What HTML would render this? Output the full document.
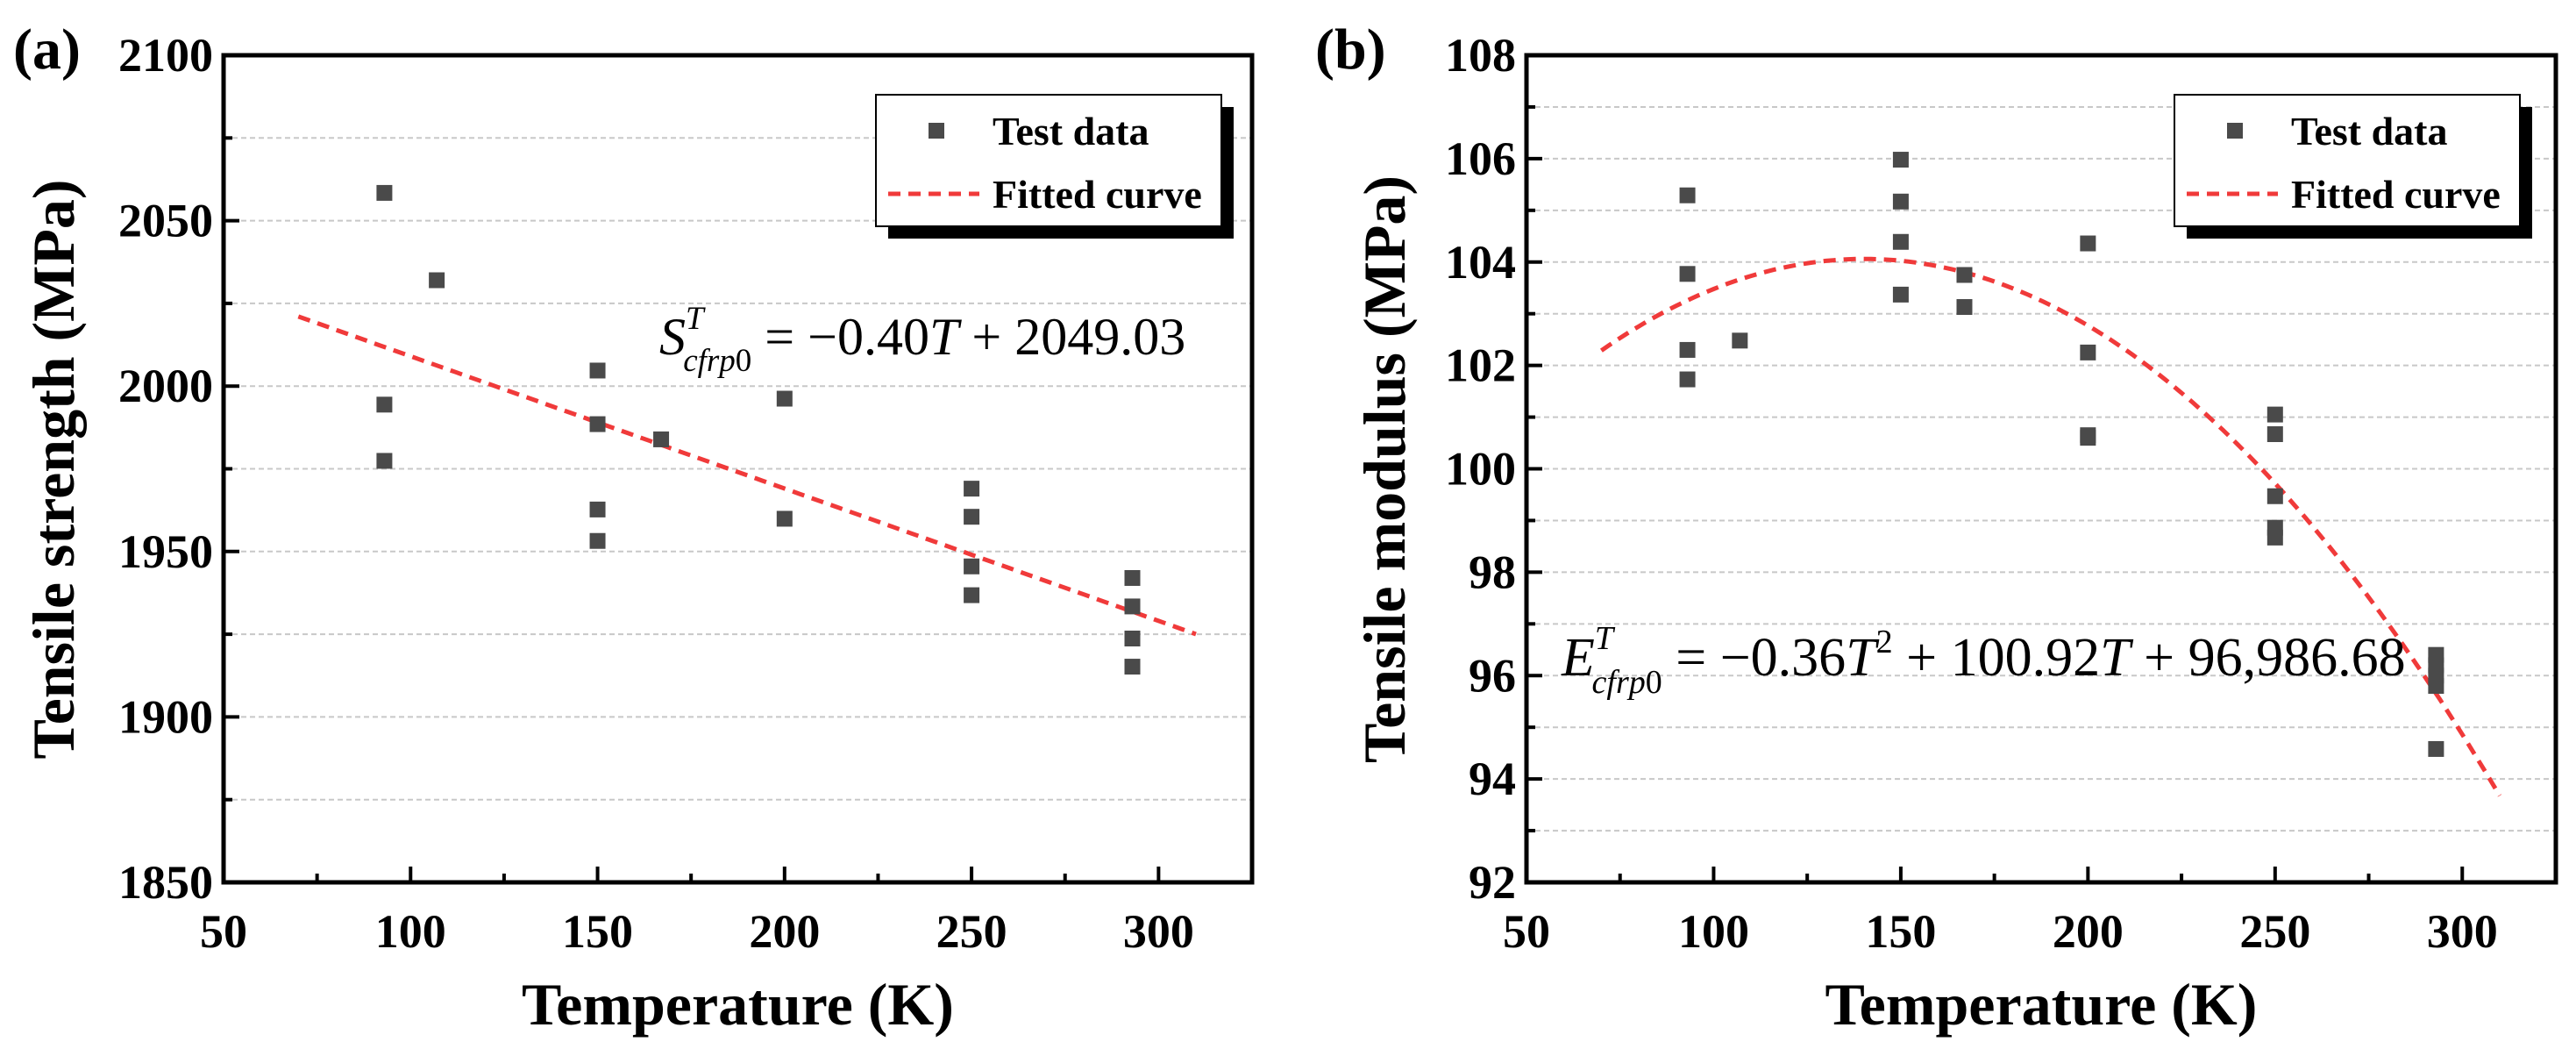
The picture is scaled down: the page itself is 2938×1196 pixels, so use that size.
<!DOCTYPE html>
<html><head><meta charset="utf-8">
<style>
html,body{margin:0;padding:0;background:#fff;}
svg{display:block;font-family:"Liberation Serif","Times New Roman",serif;}
</style></head>
<body>
<svg id="fig" width="2938" height="1196" viewBox="0 0 2938 1196" xmlns="http://www.w3.org/2000/svg"></svg>
<script>
// ---- Panel (a) data ----
const tempsA = [93,93,93,107,150,150,150,150,167,200,200,250,250,250,250,293,293,293,293];
const strengthA = [2058.4,1994.4,1977.4,2032,2004.7,1988.5,1962.7,1953.2,1983.9,1996.2,1959.9,1969,1960.5,1945.5,1936.8,1942,1933.4,1923.7,1915.2];
const fitA = [-0.40, 2049.03]; // slope, intercept
const fitRangeA = [70, 310];
const yTicksA = [1850,1900,1950,2000,2050,2100];
// ---- Panel (b) data ----
const tempsB = [93,93,93,93,107,150,150,150,150,167,167,200,200,200,200,250,250,250,250,250,293,293,293,293,293];
const modulusB = [105.29,103.77,102.30,101.73,102.48,105.98,105.17,104.39,103.37,103.75,103.13,104.36,102.25,100.65,100.6,101.05,100.67,99.47,98.86,98.67,96.4,96.2,96.0,95.8,94.58];
const fitB = [-0.00036, 0.10092, 96.98668]; // c2, c1, c0
const fitRangeB = [70, 310];
const yTicksB = [92,94,96,98,100,102,104,106,108];
const xTicks = [50,100,150,200,250,300];

const NS = "http://www.w3.org/2000/svg";
const svg = document.getElementById('fig');
function mk(tag, attrs, parent){
  const e = document.createElementNS(NS, tag);
  for (const k in attrs) e.setAttribute(k, attrs[k]);
  (parent||svg).appendChild(e);
  return e;
}

function panel(cfg){
  const g = mk('g', {});
  
  
  const L = cfg.left, R = cfg.right, T = 63, B = 1006;
  const xs = t => L + (t - 50) / 275 * (R - L);
  const ys = v => T + (cfg.ymax - v) / (cfg.ymax - cfg.ymin) * (B - T);
  const gstep = cfg.gridStep;
  for (let v = cfg.ymin + gstep; v < cfg.ymax - 1e-9; v += gstep){
    const gl = mk('line', {x1:L, x2:R, y1:ys(v), y2:ys(v), stroke:'#c8c8c8', 'stroke-width':2, 'stroke-dasharray':'6,4'}, g);
    
    
  }
  const fr = mk('rect', {x:L, y:T, width:R-L, height:B-T, fill:'none', stroke:'#000', 'stroke-width':5}, g);
  
  
  for (let t = 50; t <= 325; t += 25){
    const major = (t % 50 === 0);
    mk('line', {x1:xs(t), x2:xs(t), y1:B, y2:B-(major?18:10), stroke:'#000', 'stroke-width':4}, g);
  }
  xTicks.forEach(t => {
    const tx = mk('text', {x:xs(t), y:B+74, 'text-anchor':'middle', 'font-size':54, 'font-weight':'bold'}, g);
    tx.textContent = t;
    
    
  });
  for (let v = cfg.ymin; v <= cfg.ymax + 1e-9; v += gstep){
    const major = cfg.ticks.some(k => Math.abs(k - v) < 1e-6);
    mk('line', {x1:L, x2:L+(major?18:10), y1:ys(v), y2:ys(v), stroke:'#000', 'stroke-width':4}, g);
  }
  cfg.ticks.forEach(v => {
    const ty = mk('text', {x:L-12, y:ys(v)+18, 'text-anchor':'end', 'font-size':54, 'font-weight':'bold'}, g);
    ty.textContent = v;
    
    
  });
  let d = '';
  for (let t = cfg.fitRange[0]; t <= cfg.fitRange[1]; t += 2){
    d += (d ? 'L' : 'M') + xs(t).toFixed(1) + ',' + ys(cfg.fitFn(t)).toFixed(1);
  }
  const fc = mk('path', {d:d, fill:'none', stroke:'#f03a3a', 'stroke-width':5, 'stroke-dasharray':'14,9'}, g);
  
  
  cfg.xs.forEach((t, i) => {
    const p = mk('rect', {x:xs(t)-9, y:ys(cfg.ys[i])-9, width:18, height:18, fill:'#4a4a4a'}, g);
    
    
  });
  const lg = mk('g', {}, g);
  
  
  const lx = cfg.legX, ly = 108, lw = 394, lh = 150;
  mk('rect', {x:lx+14, y:ly+14, width:lw, height:lh, fill:'#000'}, lg);
  mk('rect', {x:lx, y:ly, width:lw, height:lh, fill:'#fff', stroke:'#000', 'stroke-width':2}, lg);
  mk('rect', {x:lx+60, y:ly+32, width:18, height:18, fill:'#4a4a4a'}, lg);
  const t1 = mk('text', {x:lx+133, y:ly+57, 'font-size':46, 'font-weight':'bold'}, lg);
  t1.textContent = 'Test data';
  
  
  mk('line', {x1:lx+14, x2:lx+118, y1:ly+113, y2:ly+113, stroke:'#f03a3a', 'stroke-width':5, 'stroke-dasharray':'14,9'}, lg);
  const t2 = mk('text', {x:lx+133, y:ly+129, 'font-size':46, 'font-weight':'bold'}, lg);
  t2.textContent = 'Fitted curve';
  
  
  const xt = mk('text', {x:(L+R)/2, y:1168, 'text-anchor':'middle', 'font-size':68, 'font-weight':'bold'}, g);
  xt.textContent = 'Temperature (K)';
  
  
  const yt = mk('text', {x:0, y:0, 'text-anchor':'middle', 'font-size':68, 'font-weight':'bold', transform:'translate(' + cfg.ytX + ',535) rotate(-90)'}, g);
  yt.textContent = cfg.ytitle;
  
  
  const pl = mk('text', {x:cfg.labX, y:78, 'font-size':66, 'font-weight':'bold'}, g);
  pl.textContent = cfg.label;
  
  
  return g;
}

const ga = panel({name:'panel-a-tensile-strength', left:255, right:1428, ymin:1850, ymax:2100, gridStep:25, ticks:yTicksA,
  xs:tempsA, ys:strengthA, fitRange:fitRangeA, fitFn:t => fitA[0]*t + fitA[1], legX:999,
  ytitle:'Tensile strength (MPa)', ytX:84, label:'(a)', labX:15});
const gb = panel({name:'panel-b-tensile-modulus', left:1741, right:2915, ymin:92, ymax:108, gridStep:1, ticks:yTicksB,
  xs:tempsB, ys:modulusB, fitRange:fitRangeB, fitFn:t => fitB[0]*t*t + fitB[1]*t + fitB[2], legX:2480,
  ytitle:'Tensile modulus (MPa)', ytX:1602, label:'(b)', labX:1500});

function eq(parent, x, y, fs, letter, rest, name){
  const t = mk('text', {x:x, y:y, 'font-size':fs}, parent);
  
  
  const s = Math.round(fs*0.62);
  t.innerHTML = '<tspan font-style="italic">' + letter + '</tspan>' +
    '<tspan font-style="italic" font-size="' + s + '" dy="-' + Math.round(fs*0.48) + '">T</tspan>' +
    '<tspan font-style="italic" font-size="' + s + '" dx="-' + Math.round(s*0.55) + '" dy="' + Math.round(fs*0.8) + '">cfrp</tspan><tspan font-size="' + s + '">0</tspan>' +
    '<tspan dy="-' + Math.round(fs*0.32) + '">' + rest + '</tspan>';
}
eq(ga, 752, 404, 60, 'S', ' = \u22120.40<tspan font-style="italic">T</tspan> + 2049.03', 'equation-strength');
eq(gb, 1781, 770, 62, 'E', ' = \u22120.36<tspan font-style="italic">T</tspan><tspan font-size="38" dy="-26">2</tspan><tspan dy="26"> + 100.92</tspan><tspan font-style="italic">T</tspan> + 96,986.68', 'equation-modulus');
</script>
</body></html>
